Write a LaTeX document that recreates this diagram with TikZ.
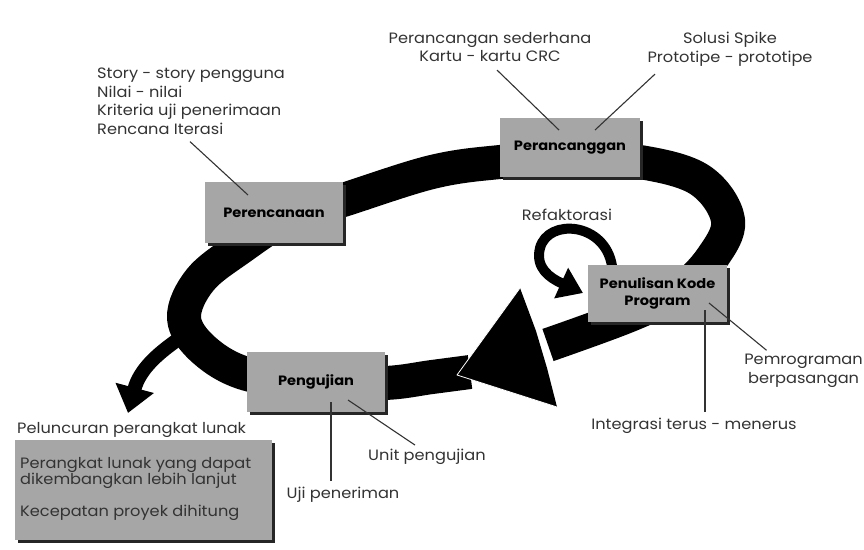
\documentclass[tikz,border=0pt]{standalone}
\usepackage{fontspec}
\setmainfont{Poppins}[FakeStretch=1.08]
\usepackage{tikz}
\usetikzlibrary{arrows.meta,shadows}

\newcommand{\notefont}{\fontsize{15}{18.5}\selectfont}
\newcommand{\stagefont}{\fontsize{13.5}{16.5}\selectfont\bfseries}

\begin{document}
\begin{tikzpicture}[x=1pt, y=-1pt, line join=round,
        every node/.append style={inner sep=0pt},
        stage/.style={rectangle, fill=black!35, font=\stagefont, align=center,
          drop shadow={shadow xshift=3pt, shadow yshift=-3pt, fill=black!85, opacity=1}},
        note/.style={font=\notefont, text=black!80, align=center},
        hook/.style={draw=black!80, line width=1.1pt}]
      \tikzstyle{band} = [line width=34pt, draw=black]
      \useasboundingbox (0,0) rectangle (864,549);

      % the big cycle
      \draw[band] plot[smooth, tension=0.6] coordinates {(470,372) (432,377) (385,383) (316,382)
        (247,374) (204,350) (184,318) (200,280) (240,248) (290,216) (343,200) (432,172) (500,162)
        (570,158) (640,162) (700,180) (728,220) (712,258) (680,290) (630,315) (548,345)};
      \coordinate (tip) at (457,375);
      \fill (tip) -- (520,288) -- (536,331) -- (547,368) -- (557,407) -- cycle;
      \draw[white, line width=0.8pt] (520,288) -- (tip) -- (557,407);

      % release branch and refactoring loop
      \draw[line width=14pt, -{Triangle[length=26pt, width=38pt]}]
        (180,338) .. controls (160,352) and (140,368) .. (128,413);
      \draw[line width=10pt, -{Triangle[length=24pt, width=32pt]}]
        (612,266) .. controls (605,222) and (548,218) .. (540,248) .. controls (535,268) and (550,278) .. (583,293);

      \node (plan) [stage, minimum width=138pt, minimum height=61pt] at (274,212.5) {Perencanaan};
      \node (design) [stage, minimum width=140pt, minimum height=59pt] at (570,147.5) {Perancanggan};
      \node (code) [stage, minimum width=139pt, minimum height=57pt] at (657.5,293.5) {Penulisan Kode\\Program};
      \node (test) [stage, minimum width=138pt, minimum height=60pt] at (316,382) {Pengujian};
      \node (release) [stage, minimum width=257pt, minimum height=100pt, anchor=north west] at (15,440) {};

      \node (story) [note, align=left, anchor=north west] at (97,68)
        {Story - story pengguna\\Nilai - nilai\\Kriteria uji penerimaan\\Rencana Iterasi};
      \node (simple) [note] at (490,47) {Perancangan sederhana\\Kartu - kartu CRC};
      \node (spike) [note] at (730,49) {Solusi Spike\\Prototipe - prototipe};
      \node (refactor) [note] at (567,215) {Refaktorasi};
      \node (integ) [note] at (694,426) {Integrasi terus - menerus};
      \node (pair) [note, anchor=east] at (863,371) {Pemrograman\\berpasangan};
      \node (unit) [note] at (427,457) {Unit pengujian};
      \node (accept) [note] at (343,495) {Uji peneriman};
      \node (launch) [note, anchor=west] at (17,430) {Peluncuran perangkat lunak};
      \node (product) [note, align=left, anchor=north west, font=\fontsize{15}{16}\selectfont] at (20,457)
        {Perangkat lunak yang dapat\\dikembangkan lebih lanjut\\[16pt]Kecepatan proyek dihitung};

      \draw[hook] ([xshift=93pt, yshift=-7pt]story.south west) -- (248,195);
      \draw[hook] ([xshift=7pt, yshift=-8pt]simple.south) -- (559,130);
      \draw[hook] ([xshift=-75pt, yshift=-8pt]spike.south) -- (595,130);
      \draw[hook] ([xshift=11pt, yshift=6pt]integ.north) -- (705,310);
      \draw[hook] ([xshift=-37pt, yshift=4pt]pair.north) -- (709,303);
      \draw[hook] ([xshift=-12pt, yshift=4pt]unit.north) -- (348,400);
      \draw[hook] ([xshift=-12pt, yshift=6pt]accept.north) -- (331,402);
    \end{tikzpicture}
\end{document}
